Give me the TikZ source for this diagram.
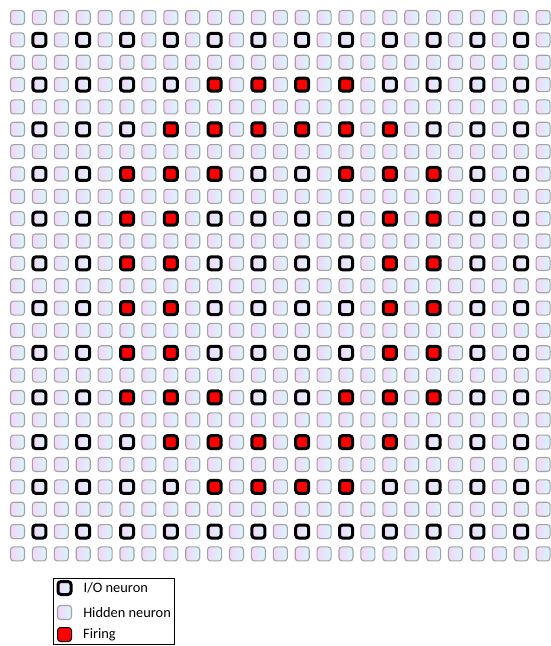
\documentclass[tikz,border=0pt]{standalone}
\usepackage{fontspec}
\setmainfont{Carlito}
\usepackage{xstring}
\usetikzlibrary{positioning}
\definecolor{hiddenPink}{HTML}{F6D4F8}
\definecolor{hiddenCyan}{HTML}{D4F8FC}
\definecolor{hiddenEdge}{HTML}{A3A3A3}
\definecolor{fireRed}{HTML}{FF0000}

\begin{document}
\begin{tikzpicture}[x=1pt, y=-1pt,
    neuron/.style={rectangle, inner sep=0pt, rounded corners=3pt},
    hidden/.style={neuron, minimum size=14pt, draw=hiddenEdge, line width=1.1pt, left color=hiddenPink, right color=hiddenCyan},
    ionode/.style={neuron, minimum size=13pt, draw=black, line width=3pt, left color=hiddenPink, right color=hiddenCyan},
    firing/.style={neuron, minimum size=13pt, draw=black, line width=3pt, fill=fireRed},
    keyfire/.style={neuron, minimum size=14pt, draw=black, line width=1pt, fill=fireRed},
    keytext/.style={inner sep=0pt, font=\fontsize{14.4}{16}\selectfont}]
  \useasboundingbox (0,0) rectangle (550,646);

  % hidden rows
  \foreach \j in {0,2,...,24}
    \foreach \i in {0,...,24}
      \node[hidden] (n-\i-\j) at (17.5+21.9*\i, 17.5+22.35*\j) {};

  % rows with I/O neurons (1 = firing)
  \foreach \j/\pat in {1/000000000000, 3/000011110000, 5/000111111000, 7/001110011100,
                       9/001100001100, 11/001100001100, 13/001100001100, 15/001100001100,
                       17/001110011100, 19/000111111000, 21/000011110000, 23/000000000000} {
    \foreach \i in {0,2,...,24}
      \node[hidden] (n-\i-\j) at (17.5+21.9*\i, 17.5+22.35*\j) {};
    \foreach \c in {1,...,12} {
      \StrChar{\pat}{\c}[\bit]
      \pgfmathtruncatemacro{\i}{2*\c-1}
      \ifnum\bit=1 \def\sty{firing}\else \def\sty{ionode}\fi
      \node[\sty] (n-\i-\j) at (17.5+21.9*\i, 17.5+22.35*\j) {};
    }
  }

  % legend
  \node[draw=black, line width=0.8pt, minimum width=121pt, minimum height=66pt, inner sep=0pt, anchor=north west] (legend) at (53,578) {};
  \node[ionode] (key-io) at (64.5,588) {};
  \node[hidden] (key-hidden) at (64.5,612.5) {};
  \node[keyfire] (key-fire) at (64.5,634.5) {};
  \node[keytext, right=11pt of key-io] (lbl-io) {I/O neuron};
  \node[keytext, right=11pt of key-hidden] (lbl-hidden) {Hidden neuron};
  \node[keytext, right=11pt of key-fire] (lbl-fire) {Firing};
\end{tikzpicture}
\end{document}
